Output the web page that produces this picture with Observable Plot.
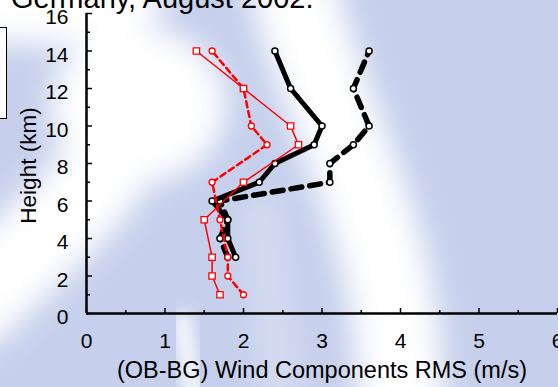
<!DOCTYPE html>
<html>
<head>
<meta charset="utf-8">
<script src="https://cdn.jsdelivr.net/npm/d3@7"></script>
<script src="https://cdn.jsdelivr.net/npm/@observablehq/plot@0.6"></script>
<style>
  html, body { margin: 0; padding: 0; background: #c6d0ec; }
  #wrap { position: relative; width: 558px; height: 387px; overflow: hidden; font-family: "Liberation Sans", Arial, sans-serif; }
  #bg { position: absolute; left: 0; top: 0; }
  #title { position: absolute; left: 11px; top: -16px; font-size: 29px; line-height: 29px; white-space: nowrap; color: #000; }
  #legendbox { position: absolute; left: -60px; top: 27px; width: 65px; height: 90px; border: 1.5px solid #000; background: #fff; }
  #plot { position: absolute; left: 0; top: 0; }
</style>
</head>
<body>
<div id="wrap">
  <svg id="bg" width="558" height="387">
    <defs>
      <filter id="blur" x="-50%" y="-50%" width="200%" height="200%">
        <feGaussianBlur stdDeviation="15"/>
      </filter>
      <filter id="blur2" x="-50%" y="-50%" width="200%" height="200%">
        <feGaussianBlur stdDeviation="8"/>
      </filter>
    </defs>
    <rect width="558" height="387" fill="#c6d0ec"/>
    <g filter="url(#blur)" fill="none" stroke="#fff" stroke-linecap="round">
      <ellipse cx="40" cy="0" rx="125" ry="45" fill="#fff" stroke="none"/>
      <ellipse cx="138" cy="105" rx="88" ry="78" fill="#fff" stroke="none"/>
      <path d="M110,160 C90,195 60,220 25,255 L-30,305" stroke-width="90"/>
      <path d="M288,-30 C310,60 350,150 372,220 S398,330 402,420" stroke-width="85"/>
      <path d="M262,210 L282,400" stroke-width="32" stroke-opacity="0.3"/>
    </g>
    <g filter="url(#blur2)" fill="none" stroke="#fff" stroke-linecap="round">
      <path d="M182,320 L194,400" stroke-width="18" stroke-opacity="0.9"/>
    </g>
  </svg>
  <div id="title">Germany, August 2002.</div>
  <div id="legendbox"></div>
  <div id="plot"></div>
</div>
<script>
// ---- data ----
const bsHeights = [3, 4, 5, 6, 7, 8, 9, 10, 12, 14];
const bsValues  = [1.9, 1.8, 1.8, 1.6, 2.2, 2.4, 2.9, 3.0, 2.6, 2.4];

const bdHeights = [3, 4, 5, 6, 7, 8, 9, 10, 12, 14];
const bdValues  = [1.8, 1.7, 1.8, 1.7, 3.1, 3.1, 3.4, 3.6, 3.4, 3.6];

const rsHeights = [1, 2, 3, 5, 7, 9, 10, 12, 14];
const rsValues  = [1.7, 1.6, 1.6, 1.5, 2.0, 2.7, 2.6, 2.0, 1.4];

const rdHeights = [1, 2, 3, 5, 7, 9, 10, 12, 14];
const rdValues  = [2.0, 1.8, 1.8, 1.7, 1.6, 2.3, 2.1, 2.0, 1.6];

const xMajor = [0, 1, 2, 3, 4, 5, 6];
const xMinor = [0.5, 1.5, 2.5, 3.5, 4.5, 5.5];
const yMajor = [0, 2, 4, 6, 8, 10, 12, 14, 16];
const yMinor = [1, 3, 5, 7, 9, 11, 13, 15];

const xTitle = "(OB-BG) Wind Components RMS (m/s)";
const yTitle = "Height (km)";

const rows = (hs, vs) => hs.map((h, i) => ({h, v: vs[i]}));
const blackSolid = rows(bsHeights, bsValues);
const blackDashed = rows(bdHeights, bdValues);
const redSolid = rows(rsHeights, rsValues);
const redDashed = rows(rdHeights, rdValues);

const fmt = d3.format("d");

const chart = Plot.plot({
  width: 558,
  height: 387,
  marginTop: 13,
  marginBottom: 74,
  marginLeft: 86,
  marginRight: 1,
  x: {domain: [0, 6]},
  y: {domain: [0, 16]},
  style: {background: "transparent", fontFamily: "'Liberation Sans', Arial, sans-serif", overflow: "visible", color: "#000"},
  marks: [
    // inward ticks
    Plot.axisX({ticks: xMajor, tickSize: 5, dy: -5, tickFormat: () => "", label: null, strokeWidth: 1.5}),
    Plot.axisX({ticks: xMinor, tickSize: 3, dy: -3, tickFormat: () => "", label: null, strokeWidth: 1.5}),
    Plot.axisY({ticks: yMajor, tickSize: 6, dx: 6, tickFormat: () => "", label: null, strokeWidth: 1.5}),
    Plot.axisY({ticks: yMinor, tickSize: 4, dx: 4, tickFormat: () => "", label: null, strokeWidth: 1.5}),
    // tick labels
    Plot.axisX({ticks: xMajor, tickSize: 0, tickPadding: 20, fontSize: 21, tickFormat: fmt, label: null}),
    Plot.axisY({ticks: yMajor, tickSize: 0, tickPadding: 18, dy: 4, fontSize: 21, tickFormat: fmt, label: null}),
    // axis lines
    Plot.ruleX([0], {stroke: "#000", strokeWidth: 2.5}),
    Plot.ruleY([0], {stroke: "#000", strokeWidth: 2.5}),
    // axis titles
    Plot.text([xTitle], {frameAnchor: "bottom", lineAnchor: "middle", textAnchor: "middle", dy: 57, fontSize: 23.5, fill: "#000"}),
    Plot.text([yTitle], {frameAnchor: "left", lineAnchor: "middle", textAnchor: "middle", dx: -58, dy: 2, rotate: -90, fontSize: 22.5, fill: "#000"}),
    // black dashed
    Plot.line(blackDashed, {x: "v", y: "h", stroke: "#000", strokeWidth: 5.5, strokeDasharray: "11,8"}),
    Plot.dot(blackDashed, {x: "v", y: "h", r: 3, fill: "#fff", stroke: "#000", strokeWidth: 1.5}),
    // black solid
    Plot.line(blackSolid, {x: "v", y: "h", stroke: "#000", strokeWidth: 5}),
    Plot.dot(blackSolid, {x: "v", y: "h", r: 3, fill: "#fff", stroke: "#000", strokeWidth: 1.5}),
    // red dashed
    Plot.line(redDashed, {x: "v", y: "h", stroke: "#ff0000", strokeWidth: 2.5, strokeDasharray: "6,4"}),
    Plot.dot(redDashed, {x: "v", y: "h", r: 3, fill: "#fff", stroke: "#ff0000", strokeWidth: 1.3}),
    // red solid
    Plot.line(redSolid, {x: "v", y: "h", stroke: "#ff0000", strokeWidth: 1.5}),
    Plot.dot(redSolid, {x: "v", y: "h", r: 3.6, symbol: "square", fill: "#fff", stroke: "#ff0000", strokeWidth: 1.3})
  ]
});
document.getElementById("plot").appendChild(chart);
</script>
</body>
</html>
